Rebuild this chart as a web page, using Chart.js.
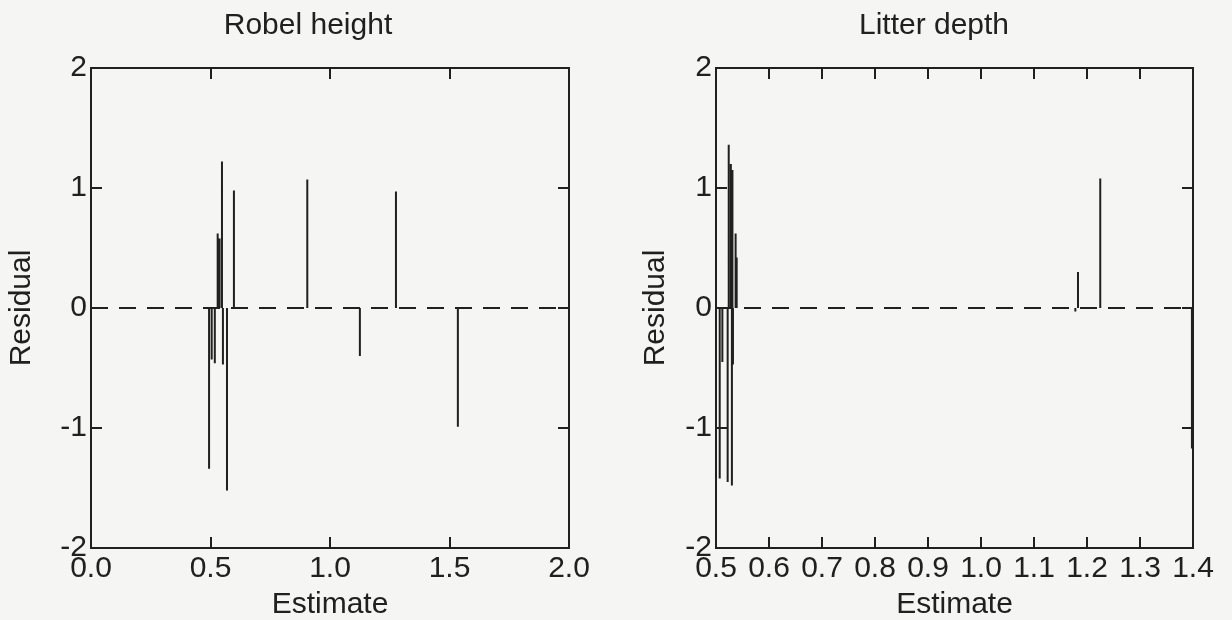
<!DOCTYPE html>
<html lang="en">
  <head>
    <meta charset="UTF-8">
    <title>Residual plots</title>
    <script src="https://cdn.jsdelivr.net/npm/chart.js@4.4.1/dist/chart.umd.min.js"></script>
    <style>
      body { margin: 0; background: #f5f5f3; width: 1232px; height: 620px; overflow: hidden; position: relative; }
      canvas { position: absolute; top: 0; }
      #left { left: 0; }
      #right { left: 636px; }
    </style>
  </head>
  <body>
    <canvas id="left" width="616" height="620"></canvas>
    <canvas id="right" width="596" height="620"></canvas>
	  <script>
    // Robel height: estimate vs residual
    var robelEst = [0.494, 0.505, 0.518, 0.530, 0.538, 0.548, 0.552, 0.569, 0.598, 0.905, 1.125, 1.276, 1.535];
    var robelRes = [-1.34, -0.43, -0.46, 0.62, 0.58, 1.22, -0.47, -1.52, 0.98, 1.07, -0.40, 0.97, -0.99];
    var robelXTicks = [0.0, 0.5, 1.0, 1.5, 2.0];

    // Litter depth: estimate vs residual
    var litterEst = [0.507, 0.512, 0.522, 0.524, 0.528, 0.530, 0.531, 0.532, 0.537, 0.539, 1.178, 1.183, 1.225, 1.398];
    var litterRes = [-1.42, -0.45, -1.45, 1.36, 1.20, -1.48, 1.15, -0.47, 0.62, 0.42, -0.03, 0.30, 1.08, -1.17];
    var litterXTicks = [0.5, 0.6, 0.7, 0.8, 0.9, 1.0, 1.1, 1.2, 1.3, 1.4];

    var yTicks = [-2, -1, 0, 1, 2];

    var ink = '#202020';
    var fontFamily = '"Liberation Sans", Arial, sans-serif';

    // frame round the plot area with inward tick marks
    var framePlugin = {
      id: 'frame',
      afterDatasetsDraw(chart) {
        var ctx = chart.ctx, a = chart.chartArea;
        var xs = chart.scales.x, ys = chart.scales.y;
        var len = 11;
        ctx.save();
        ctx.strokeStyle = ink;
        ctx.lineWidth = 2;
        ctx.strokeRect(a.left, a.top, a.right - a.left, a.bottom - a.top);
        ctx.beginPath();
        xs.ticks.forEach(function(t) {
          if (t.value <= xs.min || t.value >= xs.max) return;
          var px = Math.round(xs.getPixelForValue(t.value));
          ctx.moveTo(px, a.bottom); ctx.lineTo(px, a.bottom - len);
          ctx.moveTo(px, a.top); ctx.lineTo(px, a.top + len);
        });
        ys.ticks.forEach(function(t) {
          if (t.value <= ys.min || t.value >= ys.max) return;
          var py = Math.round(ys.getPixelForValue(t.value));
          ctx.moveTo(a.left, py); ctx.lineTo(a.left + len, py);
          ctx.moveTo(a.right, py); ctx.lineTo(a.right - len, py);
        });
        ctx.stroke();
        ctx.restore();
      }
    };

    function needles(est, res) {
      var pts = [];
      est.forEach(function(x, i) {
        pts.push({x: x, y: 0});
        pts.push({x: x, y: res[i]});
        pts.push({x: x, y: null});
      });
      return pts;
    }

    function makeChart(id, title, est, res, xTicks, yWidth, padRight, titlePad) {
      var ctx = document.getElementById(id).getContext('2d');
      var xMin = xTicks[0], xMax = xTicks[xTicks.length - 1];
      return new Chart(ctx, {
        type: 'line',
        data: {
          datasets: [{
            data: [{x: xMin, y: 0}, {x: xMax, y: 0}],
            borderColor: ink,
            borderWidth: 2,
            borderDash: [17, 11],
            pointRadius: 0
          }, {
            data: needles(est, res),
            borderColor: ink,
            borderWidth: 2,
            pointRadius: 0,
            spanGaps: false
          }]
        },
        options: {
          responsive: false,
          animation: false,
          devicePixelRatio: 1,
          layout: { padding: 0 },
          plugins: {
            legend: { display: false },
            tooltip: { enabled: false },
            title: {
              display: true,
              text: title,
              color: ink,
              font: { family: fontFamily, size: 30, weight: 'normal', lineHeight: 1.2 },
              padding: { top: 8, bottom: 24 }
            }
          },
          scales: {
            x: {
              type: 'linear',
              min: xMin,
              max: xMax,
              grid: { display: false, drawTicks: false },
              border: { display: false },
              afterBuildTicks: function(s) { s.ticks = xTicks.map(function(v) { return {value: v}; }); },
              afterFit: function(s) { s.height = 72; },
              ticks: {
                autoSkip: false,
                maxRotation: 0,
                padding: 3,
                color: ink,
                font: { family: fontFamily, size: 30 },
                callback: function(v) { return Number(v).toFixed(1); }
              },
              title: {
                display: true,
                text: 'Estimate',
                color: ink,
                font: { family: fontFamily, size: 30, lineHeight: 1 },
                padding: 0
              }
            },
            y: {
              min: -2,
              max: 2,
              grid: { display: false, drawTicks: false },
              border: { display: false },
              afterBuildTicks: function(s) { s.ticks = yTicks.map(function(v) { return {value: v}; }); },
              afterFit: function(s) { s.width = yWidth; },
              ticks: {
                padding: 4,
                color: ink,
                font: { family: fontFamily, size: 30 }
              },
              title: {
                display: true,
                text: 'Residual',
                color: ink,
                font: { family: fontFamily, size: 30, lineHeight: 1.2 },
                padding: { top: titlePad, bottom: 0 }
              }
            },
            // empty right-hand axis that only keeps space free
            yRight: {
              position: 'right',
              min: -2,
              max: 2,
              grid: { display: false, drawTicks: false },
              border: { display: false },
              ticks: { display: false },
              afterFit: function(s) { s.width = padRight; }
            }
          }
        },
        plugins: [framePlugin]
      });
    }

    makeChart('left', 'Robel height', robelEst, robelRes, robelXTicks, 91, 47, 4);
    makeChart('right', 'Litter depth', litterEst, litterRes, litterXTicks, 80, 39, 2);
    </script>
  </body>
</html>
